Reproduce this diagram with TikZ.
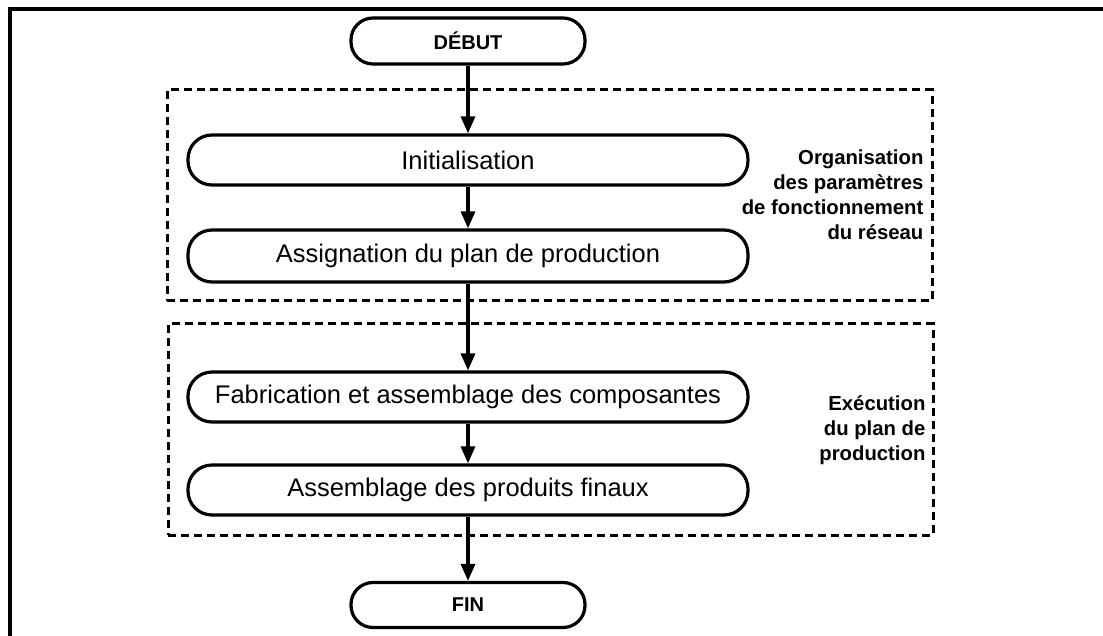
\documentclass[tikz,border=0pt]{standalone}
\usepackage{fontspec}
\setmainfont{Liberation Sans}
\usetikzlibrary{arrows.meta}
\begin{document}
\begin{tikzpicture}[x=1pt,y=-1pt,
  line width=3.2pt,
  terminal/.style={draw, rounded corners=22pt, minimum width=234pt, minimum height=46pt,
    inner sep=0pt, font=\fontsize{20}{22}\selectfont\bfseries},
  process/.style={draw, rounded corners=24pt, minimum width=560pt, minimum height=50pt,
    inner sep=0pt, font=\fontsize{25.5}{27}\selectfont},
  groupbox/.style={draw, line width=3pt, dash pattern=on 8pt off 5pt, minimum width=765pt,
    minimum height=211pt, inner sep=0pt},
  grouplabel/.style={anchor=east, align=right, inner sep=0pt,
    font=\fontsize{20.3}{25}\selectfont\bfseries},
  flow/.style={-{Triangle[length=17pt,width=14pt]}}
]
\useasboundingbox (0,0) rectangle (1103,636);
\fill[white] (0,0) rectangle (1103,636);

% outer frame (top and left edges)
\draw (10,640) -- (10,9) -- (1110,9);

% dashed groups
\node[groupbox] (g1) at (549.5,195.5) {};
\node[groupbox] (g2) at (550.5,429.5) {};
\node[grouplabel] (l1) at (925,195) {Organisation\\des paramètres\\de fonctionnement\\du réseau};
\node[grouplabel] (l2) at (927,430) {Exécution\\du plan de\\production};

% flow steps
\node[terminal] (debut) at (468,41) {DÉBUT};
\node[process] (init) at (468,160) {Initialisation};
\node[process, minimum height=52pt] (assign) at (468,256) {Assignation du plan de production};
\node[process] (fab) at (468,397) {Fabrication et assemblage des composantes};
\node[process] (assemb) at (468,490) {Assemblage des produits finaux};
\node[terminal, minimum height=45pt] (fin) at (468,605) {FIN};

% connectors
\draw[flow] (debut) -- (init);
\draw[flow] (init) -- (assign);
\draw[flow] (assign) -- (fab);
\draw[flow] (fab) -- (assemb);
\draw[flow] (assemb) -- (fin);
\end{tikzpicture}
\end{document}
